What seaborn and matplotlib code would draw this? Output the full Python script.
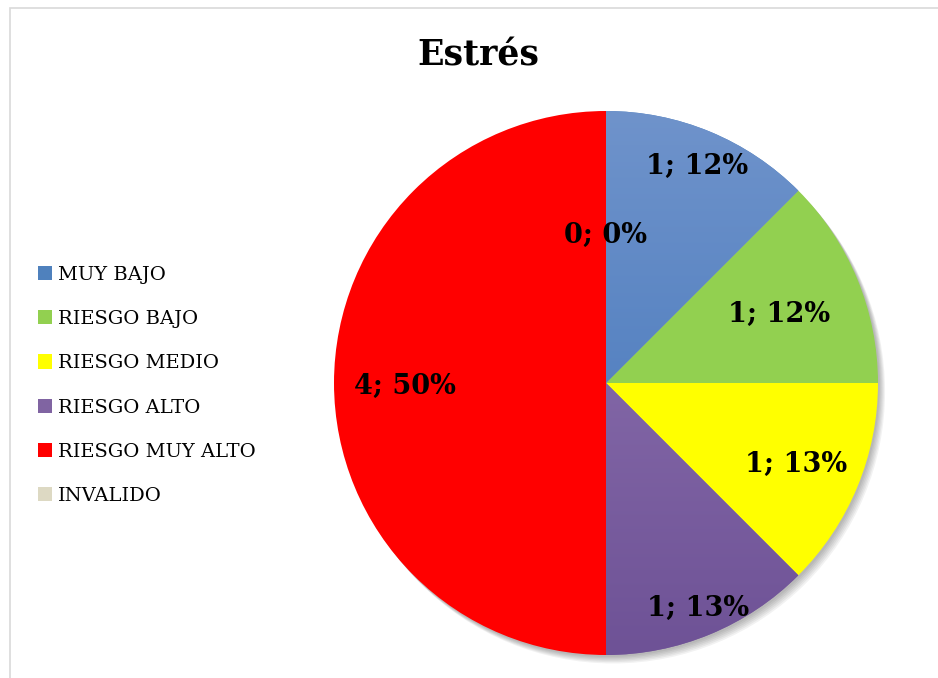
import numpy as np
import matplotlib
matplotlib.use("Agg")
import matplotlib.pyplot as plt
import seaborn as sns
from matplotlib.patches import Patch, Circle, Rectangle
from matplotlib.colors import LinearSegmentedColormap

sns.set_theme(style="white")
plt.rcParams["font.family"] = ["DejaVu Serif"]
plt.rcParams["text.color"] = "black"

# Data
categories = ["MUY BAJO", "RIESGO BAJO", "RIESGO MEDIO", "RIESGO ALTO",
              "RIESGO MUY ALTO", "INVALIDO"]
counts = [1, 1, 1, 1, 4, 0]
pct_labels = ["12%", "12%", "13%", "13%", "50%", "0%"]
colors = ["#4F81BD", "#92D050", "#FFFF00", "#8064A2", "#FF0000", "#DDD9C3"]
# vertical shading (top, bottom) for the shaded slices
shades = {0: ("#6F93CB", "#3D72B8"), 3: ("#9479B5", "#6E5296")}
label_radius = [0.875, 0.69, 0.755, 0.885, 0.74, 0.555]

W, H = 938, 678
fig = plt.figure(figsize=(W / 100, H / 100), dpi=100)
fig.patch.set_facecolor("white")

# outer frame of the chart area
fig.add_artist(Rectangle((10 / W, -0.1), 1.2, (H - 8) / H + 0.1,
                         transform=fig.transFigure, fill=False,
                         edgecolor="#D9D9D9", linewidth=1.2))

cx, cy, r = 606, 383, 272
ax = fig.add_axes([(cx - r) / W, (H - cy - r) / H, 2 * r / W, 2 * r / H])

# soft drop shadow toward the lower right
for i in range(6):
    off = 0.006 + 0.004 * i
    ax.add_patch(Circle((off, -off * 1.2), 1.0, color="black",
                        alpha=0.05, lw=0, zorder=0, clip_on=False))

wedges, _ = ax.pie(counts, colors=colors, startangle=90, counterclock=False,
                   radius=1.0, wedgeprops=dict(linewidth=0, zorder=1))
ax.set_aspect("equal")
ax.axis("off")

# gradient fill for shaded slices
for idx, (top, bot) in shades.items():
    cmap = LinearSegmentedColormap.from_list(f"g{idx}", [bot, top])
    grad = np.linspace(0, 1, 256).reshape(-1, 1)
    im = ax.imshow(grad, extent=[-1, 1, -1, 1], origin="lower", cmap=cmap,
                   aspect="auto", zorder=2)
    im.set_clip_path(wedges[idx])
ax.set_xlim(-1, 1)
ax.set_ylim(-1, 1)

# data labels
total = sum(counts)
start = 90.0
for i, (c, p) in enumerate(zip(counts, pct_labels)):
    sweep = 360.0 * c / total
    mid = np.deg2rad(start - sweep / 2)
    start -= sweep
    rr = label_radius[i]
    ax.text(rr * np.cos(mid), rr * np.sin(mid), f"{c}; {p}",
            ha="center", va="center_baseline", fontsize=19.5,
            fontweight="bold", color="black", zorder=5)

fig.text(478 / W, 1 - 55 / H, "Estrés", ha="center", va="center",
         fontsize=25, fontweight="bold", color="black")

handles = [Patch(facecolor=col, edgecolor="none") for col in colors]
leg = fig.legend(handles, categories, loc="upper left",
                 bbox_to_anchor=(30 / W, 1 - 258 / H), frameon=False,
                 fontsize=14, handlelength=0.75, handleheight=0.75,
                 handletextpad=0.3, labelspacing=1.35, borderaxespad=0)
for t in leg.get_texts():
    t.set_color("black")

fig.savefig("out.png", dpi=100, facecolor="white")
